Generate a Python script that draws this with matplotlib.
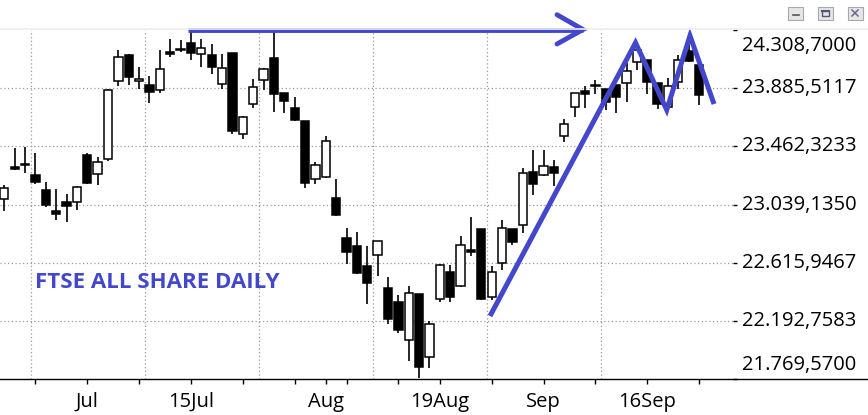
import matplotlib
matplotlib.use("Agg")
import matplotlib.pyplot as plt
from matplotlib.lines import Line2D
from matplotlib.patches import Rectangle
import numpy as np

# ---------------- data (daily OHLC, FTSE ALL SHARE) ----------------
opens = [23077, 23303, 23327, 23254, 23145, 22992, 23057, 23060, 23399, 23263,
         23372, 23935, 24127, 23935, 23909, 23870, 24151, 24162, 24214, 24132,
         24127, 23914, 24141, 23550, 23768, 23943, 24105, 23848, 23741, 23647,
         23223, 23241, 23086, 22795, 22735, 22592, 22670, 22429, 22328, 22051,
         22386, 21928, 22354, 22548, 22448, 22708, 22859, 22364, 22611, 22859,
         22890, 23273, 23256, 23310, 23535, 23746, 23865, 23902, 23877, 23909,
         23921, 24074, 24090, 23921, 23746, 23928, 24158, 24054]
highs = [23181, 23452, 23460, 23412, 23203, 23152, 23116, 23174, 23416, 23385,
         23882, 24163, 24134, 24040, 23974, 24163, 24243, 24236, 24296, 24243,
         24207, 24134, 24141, 23683, 23952, 24032, 24296, 23848, 23821, 23647,
         23348, 23538, 23225, 22868, 22839, 22737, 22771, 22512, 22379, 22444,
         22386, 22192, 22604, 22599, 22810, 22950, 22859, 22592, 22926, 22859,
         23303, 23433, 23433, 23361, 23661, 23848, 23901, 23943, 23877, 23909,
         24066, 24187, 24090, 23921, 23957, 24127, 24212, 24054]
lows = [22994, 23290, 23271, 23186, 23019, 22923, 22912, 22999, 23188, 23183,
        23358, 23901, 23909, 23879, 23780, 23853, 24110, 24151, 24090, 24042,
        23989, 23879, 23552, 23516, 23743, 23874, 23714, 23707, 23649, 23161,
        23191, 23234, 22956, 22604, 22536, 22315, 22521, 22170, 22106, 21903,
        21775, 21852, 22332, 22332, 22441, 22667, 22344, 22344, 22563, 22745,
        22834, 23110, 23249, 23176, 23496, 23678, 23743, 23841, 23727, 23707,
        23787, 24018, 23843, 23732, 23746, 23877, 24078, 23763]
closes = [23157, 23301, 23327, 23205, 23038, 22972, 23030, 23164, 23196, 23346,
          23872, 24110, 23969, 23952, 23860, 24023, 24136, 24160, 24144, 24176,
          24042, 24030, 23576, 23674, 23892, 24023, 23845, 23794, 23654, 23198,
          23327, 23499, 22963, 22696, 22543, 22470, 22771, 22208, 22128, 22393,
          21859, 22168, 22597, 22368, 22742, 22696, 22352, 22546, 22866, 22769,
          23266, 23186, 23317, 23266, 23623, 23848, 23841, 23900, 23787, 23823,
          24013, 24163, 23933, 23768, 23901, 24090, 24083, 23836]

date_tick_pos = [8, 18, 31, 42, 52, 62]
date_tick_labels = ["Jul", "15Jul", "Aug", "19Aug", "Sep", "16Sep"]
week_tick_pos = [3, 13, 23, 28, 33, 38, 47, 57, 67]

y_min, y_max = 21769.57, 24308.70
price_levels = [21769.5700, 22192.7583, 22615.9467, 23039.1350,
                23462.3233, 23885.5117, 24308.7000]

# hand-drawn annotations (candle index, price)
arrow_x = [17.7, 55.8]
arrow_y = [24312, 24312]
arrowhead_x = [53.3, 55.8, 53.3]
arrowhead_y = [24420, 24312, 24207]
pattern_x = [46.84, 60.87, 63.88, 66.12, 68.44]
pattern_y = [22228, 24216, 23727, 24267, 23770]
chart_title = "FTSE ALL SHARE DAILY"

# ---------------- figure ----------------
plt.rcParams["font.family"] = ["Open Sans", "DejaVu Sans"]
W, H = 868, 415
BLUE = "#4347cc"
fig = plt.figure(figsize=(W / 100, H / 100), dpi=100)
ax = fig.add_axes([0, 1 - 379 / H, 733 / W, (379 - 30) / H])
ax.set_xlim(-0.415, 70.27)
ax.set_ylim(y_min, y_max)
for s in ax.spines.values():
    s.set_visible(False)

# grid
for lv in price_levels[1:-1]:
    ax.axhline(lv, color="#9a9a9a", lw=0.9, ls=(0, (1, 2)), zorder=1)
for px in [31, 145, 259, 373, 487, 601]:
    ax.add_line(Line2D([px / 733, px / 733], [0, 1], transform=ax.transAxes,
                       color="#9a9a9a", lw=0.9, ls=(0, (1, 2)), zorder=1))

# candles
o = np.array(opens, float); h = np.array(highs, float)
l = np.array(lows, float); c = np.array(closes, float)
x = np.arange(len(o))
up = c >= o
ax.vlines(x, l, h, color="black", lw=1.2, zorder=2)
body_bottom = np.minimum(o, c)
body_h = np.maximum(np.abs(c - o), 8)
ax.bar(x, body_h, bottom=body_bottom, width=0.8,
       color=np.where(up, "white", "black"), edgecolor="black",
       linewidth=1.1, zorder=3)

# annotations
ax.plot(arrow_x, arrow_y, color=BLUE, lw=3.5, solid_capstyle="butt",
        clip_on=False, zorder=5)
ax.plot(arrowhead_x, arrowhead_y, color=BLUE, lw=3.5, solid_capstyle="round",
        solid_joinstyle="miter", clip_on=False, zorder=5)
ax.plot(pattern_x, pattern_y, color=BLUE, lw=3.6, solid_capstyle="butt",
        solid_joinstyle="miter", clip_on=False, zorder=5)
ax.text(35 / 733, (379 - 288.3) / 349, chart_title, transform=ax.transAxes,
        fontsize=16, fontweight="bold", color=BLUE, ha="left", va="baseline")

# x axis ticks
ax.set_xticks(date_tick_pos)
ax.set_xticklabels(date_tick_labels)
ax.set_xticks(week_tick_pos, minor=True)
ax.tick_params(axis="x", which="both", length=3.3, width=1, color="black",
               direction="out", pad=6, labelsize=14.5)

# y axis ticks (right)
ax.yaxis.tick_right()
ax.set_yticks(price_levels)
ax.tick_params(axis="y", length=3, width=1, labelright=False, labelleft=False)
for i, lv in enumerate(price_levels):
    lab = f"{lv:,.4f}".replace(",", "#").replace(".", ",").replace("#", ".")
    dy = 0
    if i == 0:
        dy = 14
    elif i == len(price_levels) - 1:
        dy = -16
    ax.annotate(lab, xy=(1, lv), xycoords=("axes fraction", "data"),
                xytext=(9, dy), textcoords="offset pixels", ha="left",
                va="center", fontsize=14.5, annotation_clip=False)

# frame lines spanning the window
def fx(px):
    return px / W
def fy(py):
    return 1 - py / H
fig.add_artist(Line2D([0, 1], [fy(379), fy(379)], transform=fig.transFigure,
                      color="black", lw=1.0))
fig.add_artist(Line2D([0, 1], [fy(29), fy(29)], transform=fig.transFigure,
                      color="#eeeeee", lw=1.2))

# window buttons
for bx in [788, 818, 848]:
    fig.add_artist(Rectangle((fx(bx), fy(20)), 15 / W, 13 / H,
                             transform=fig.transFigure, facecolor="#e6e6e6",
                             edgecolor="#a8a8a8", lw=0.8))
fig.add_artist(Line2D([fx(793), fx(799)], [fy(15.5), fy(15.5)],
                      transform=fig.transFigure, color="#555555", lw=1.2))
fig.add_artist(Rectangle((fx(822), fy(16)), 7 / W, 5 / H,
                         transform=fig.transFigure, facecolor="none",
                         edgecolor="#555577", lw=1.0))
fig.add_artist(Line2D([fx(822), fx(829)], [fy(11.5), fy(11.5)],
                      transform=fig.transFigure, color="#555577", lw=1.5))
fig.add_artist(Line2D([fx(852), fx(858)], [fy(10), fy(16)],
                      transform=fig.transFigure, color="#6a6a8a", lw=1.1))
fig.add_artist(Line2D([fx(852), fx(858)], [fy(16), fy(10)],
                      transform=fig.transFigure, color="#6a6a8a", lw=1.1))

fig.savefig("out.png", dpi=100, facecolor="white")
